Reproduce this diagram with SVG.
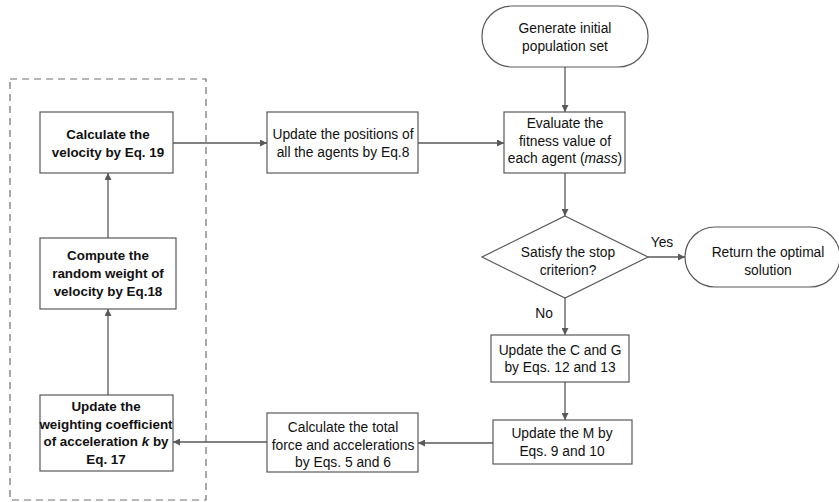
<svg xmlns="http://www.w3.org/2000/svg" width="839" height="502" viewBox="0 0 839 502">
<defs>
<style>
.box{fill:#fff;stroke:#595959;stroke-width:1.2}
.t{font-family:"Liberation Sans",Arial,sans-serif;font-size:13.8px;fill:#111;text-anchor:middle}
.b{font-weight:bold;font-size:13.4px}
.e{stroke:#595959;stroke-width:1.3;fill:none;marker-end:url(#ah)}
</style>
<marker id="ah" viewBox="0 0 10 10" refX="10" refY="5" markerWidth="7" markerHeight="7" markerUnits="userSpaceOnUse" orient="auto">
<path d="M0,0 L10,5 L0,10 z" fill="#595959"/>
</marker>
</defs>
<rect x="0" y="0" width="839" height="502" fill="#fff"/>
<rect id="loop" x="10" y="79" width="196" height="421" fill="none" stroke="#707070" stroke-width="1.2" stroke-dasharray="7,5"/>
<g id="connectors">
<path class="e" d="M565,67 V112"/>
<path class="e" d="M173,143 H267"/>
<path class="e" d="M418,143 H504"/>
<path class="e" d="M565,173 V216"/>
<path class="e" d="M648,257 H685"/>
<path class="e" d="M565,298 V335"/>
<path class="e" d="M565,382 V420"/>
<path class="e" d="M493,443 H418"/>
<path class="e" d="M267,442 H173"/>
<path class="e" d="M108,395 V309"/>
<path class="e" d="M108,238 V173"/>
<text class="t" x="662" y="247">Yes</text>
<text class="t" x="544" y="318">No</text>
</g>
<g id="generate">
<rect class="box" x="482" y="6" width="166" height="61" rx="30"/>
<text class="t" x="565" y="33">Generate initial</text>
<text class="t" x="565" y="51">population set</text>
</g>
<g id="evaluate">
<rect class="box" x="504" y="112" width="121" height="61"/>
<text class="t" x="565" y="128">Evaluate the</text>
<text class="t" x="565" y="145.5">fitness value of</text>
<text class="t" x="565" y="163">each agent (<tspan font-style="italic">mass</tspan>)</text>
</g>
<g id="decision">
<path class="box" d="M565,216 L648,257 L565,298 L482,257 Z"/>
<text class="t" x="568" y="257">Satisfy the stop</text>
<text class="t" x="568" y="275">criterion?</text>
</g>
<g id="return">
<rect class="box" x="685" y="227" width="155" height="60" rx="30"/>
<text class="t" x="768" y="257">Return the optimal</text>
<text class="t" x="768" y="275">solution</text>
</g>
<g id="updateCG">
<rect class="box" x="491" y="335" width="138" height="47"/>
<text class="t" x="560" y="355">Update the C and G</text>
<text class="t" x="560" y="372">by Eqs. 12 and 13</text>
</g>
<g id="updateM">
<rect class="box" x="493" y="420" width="139" height="44"/>
<text class="t" x="562" y="438">Update the M by</text>
<text class="t" x="562" y="456">Eqs. 9 and 10</text>
</g>
<g id="force">
<rect class="box" x="267" y="413" width="151" height="59"/>
<text class="t" x="343" y="432">Calculate the total</text>
<text class="t" x="343" y="449.5">force and accelerations</text>
<text class="t" x="343" y="467">by Eqs. 5 and 6</text>
</g>
<g id="positions">
<rect class="box" x="267" y="112" width="151" height="61"/>
<text class="t" x="343" y="139">Update the positions of</text>
<text class="t" x="343" y="157">all the agents by Eq.8</text>
</g>
<g id="velocity">
<rect class="box" x="40" y="112" width="133" height="61"/>
<text class="t b" x="108" y="139">Calculate the</text>
<text class="t b" x="108" y="157">velocity by Eq. 19</text>
</g>
<g id="random">
<rect class="box" x="40" y="238" width="136" height="71"/>
<text class="t b" x="108" y="260">Compute the</text>
<text class="t b" x="108" y="278">random weight of</text>
<text class="t b" x="108" y="296">velocity by Eq.18</text>
</g>
<g id="weighting">
<rect class="box" x="40" y="395" width="133" height="76"/>
<text class="t b" x="106" y="411">Update the</text>
<text class="t b" x="106" y="428.5">weighting coefficient</text>
<text class="t b" x="106" y="446">of acceleration <tspan font-style="italic">k</tspan> by</text>
<text class="t b" x="106" y="463.5">Eq. 17</text>
</g>
</svg>
